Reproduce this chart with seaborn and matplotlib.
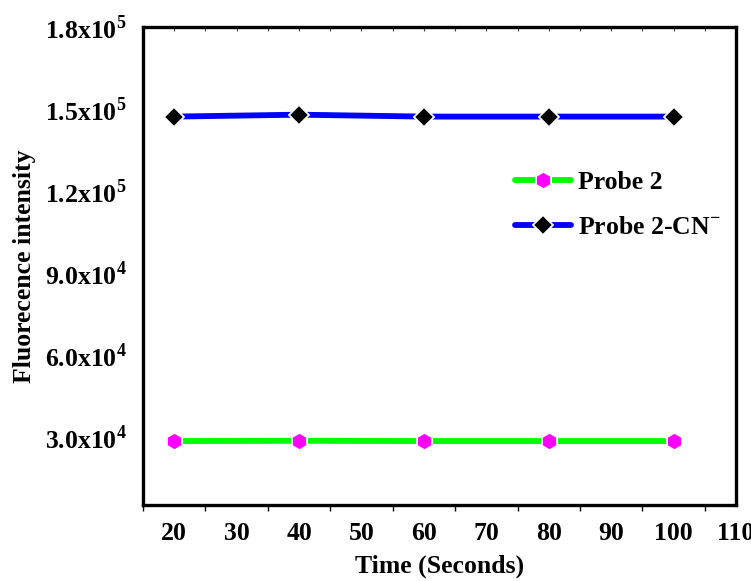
import numpy as np
import pandas as pd
import seaborn as sns
import matplotlib
matplotlib.use("Agg")
import matplotlib.pyplot as plt
from matplotlib.ticker import FixedLocator, MultipleLocator, NullFormatter

# Measured values
time_s = [20, 40, 60, 80, 100]
probe2 = [28400, 28500, 28400, 28400, 28400]
probe2_cn = [147200, 147900, 147200, 147200, 147200]

y_ticks = [30000, 60000, 90000, 120000, 150000, 180000]
y_tick_labels = [r"3.0x10$^{\mathbf{4}}$", r"6.0x10$^{\mathbf{4}}$", r"9.0x10$^{\mathbf{4}}$",
                 r"1.2x10$^{\mathbf{5}}$", r"1.5x10$^{\mathbf{5}}$", r"1.8x10$^{\mathbf{5}}$"]
x_ticks = [20, 30, 40, 50, 60, 70, 80, 90, 100, 110]

sns.set_style("white")
plt.rcParams["font.family"] = ["Liberation Serif", "DejaVu Serif"]
plt.rcParams["font.weight"] = "bold"
plt.rcParams["text.color"] = "black"
plt.rcParams["axes.labelcolor"] = "black"
plt.rcParams["mathtext.fontset"] = "custom"
plt.rcParams["mathtext.rm"] = "Liberation Serif:bold"
plt.rcParams["mathtext.bf"] = "Liberation Serif:bold"

FS = 18.5

fig = plt.figure(figsize=(7.51, 5.81), dpi=100)
ax = fig.add_axes([143 / 751, 1 - 505 / 581, (736 - 143) / 751, (505 - 27) / 581])

df = pd.DataFrame({"time": time_s * 2,
                   "value": probe2 + probe2_cn,
                   "series": ["Probe 2"] * 5 + ["Probe 2-CN"] * 5})

sns.lineplot(data=df[df.series == "Probe 2"], x="time", y="value", ax=ax,
             color="#00ff00", lw=4.2, marker="h", markersize=12.5,
             markerfacecolor="#ff00ff", markeredgecolor="white", markeredgewidth=1.3,
             label="Probe 2")
sns.lineplot(data=df[df.series == "Probe 2-CN"], x="time", y="value", ax=ax,
             color="#0000ff", lw=4.2, marker="D", markersize=10,
             markerfacecolor="black", markeredgecolor="white", markeredgewidth=1.3,
             label=r"Probe 2-CN$^{\mathbf{-}}$")

ax.set_xlim(15, 110)
ax.set_ylim(5000, 180000)
ax.xaxis.set_major_locator(FixedLocator(x_ticks))
ax.xaxis.set_minor_locator(MultipleLocator(5))
ax.yaxis.set_major_locator(FixedLocator(y_ticks))
ax.set_yticklabels(y_tick_labels)
ax.set_xticklabels([str(t) for t in x_ticks])

for s in ax.spines.values():
    s.set_linewidth(2.4)
    s.set_color("black")

ax.tick_params(axis="both", which="major", direction="out", length=7, width=2.4,
               labelsize=FS, pad=5, colors="black")
ax.tick_params(axis="x", which="minor", direction="out", length=4, width=1.0,
               bottom=True, colors="black")

# faint inward ticks along the top edge
top = ax.secondary_xaxis("top")
top.xaxis.set_major_locator(MultipleLocator(5))
top.xaxis.set_major_formatter(NullFormatter())
top.tick_params(axis="x", direction="in", length=3, width=0.8, colors="#444444")
top.spines["top"].set_visible(False)

for lab in ax.get_xticklabels() + ax.get_yticklabels():
    lab.set_fontweight("bold")

ax.set_xlabel("Time (Seconds)", fontsize=FS, fontweight="bold", labelpad=7)
ax.set_ylabel("Fluorecence intensity", fontsize=FS, fontweight="bold", labelpad=6)

leg = ax.legend(loc="center left", bbox_to_anchor=(0.627, 0.627), frameon=False,
                handlelength=2.2, labelspacing=0.85, handletextpad=0.25,
                borderpad=0, borderaxespad=0,
                prop={"family": "Liberation Serif", "weight": "bold", "size": FS})

fig.savefig("out.png", dpi=100)
